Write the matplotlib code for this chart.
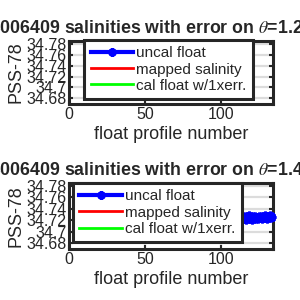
import matplotlib
matplotlib.use('Agg')
import matplotlib.pyplot as plt
from matplotlib.ticker import FuncFormatter

# data
float_name = '3006409'
theta_levels = ['1.2235', '1.4176']

# upper theta level: no profiles in range
top_profiles = []
top_uncal = []
top_mapped = []
top_cal = []

# lower theta level
bot_profiles = [114, 115, 116, 117, 118, 119, 120, 121, 122, 123,
                124, 125, 126, 127, 128, 129, 130, 131, 132, 133]
bot_uncal = [34.7246, 34.7262, 34.7228, 34.7249, 34.7265, 34.7231, 34.7222, 34.7258,
             34.7261, 34.7234, 34.7239, 34.7263, 34.7247, 34.7232, 34.7260, 34.7266,
             34.7233, 34.7249, 34.7264, 34.7251]
bot_mapped = [34.7278, 34.7280, 34.7276, 34.7279, 34.7281, 34.7277, 34.7275, 34.7278,
              34.7280, 34.7279, 34.7276, 34.7280, 34.7278, 34.7277, 34.7279, 34.7281,
              34.7278, 34.7280, 34.7282, 34.7285]
bot_cal = [34.7246, 34.7262, 34.7228, 34.7249, 34.7265, 34.7231, 34.7222, 34.7258,
           34.7261, 34.7234, 34.7239, 34.7263, 34.7247, 34.7232, 34.7260, 34.7266,
           34.7233, 34.7249, 34.7264, 34.7251]

yticks = [34.68, 34.70, 34.72, 34.74, 34.76, 34.78]
xticks = [0, 50, 100]

plt.rcParams['font.family'] = ['Liberation Sans', 'DejaVu Sans']
plt.rcParams['mathtext.fontset'] = 'stix'
plt.rcParams['axes.linewidth'] = 2.2
plt.rcParams['xtick.direction'] = 'in'
plt.rcParams['ytick.direction'] = 'in'
plt.rcParams['text.color'] = '#262626'
plt.rcParams['axes.labelcolor'] = '#262626'
plt.rcParams['xtick.color'] = '#262626'
plt.rcParams['ytick.color'] = '#262626'

fig = plt.figure(figsize=(3, 3), dpi=100)
ax1 = fig.add_axes([0.23, 0.653, 0.68, 0.21])
ax2 = fig.add_axes([0.23, 0.17, 0.68, 0.22])

datasets = [(ax1, top_profiles, top_uncal, top_mapped, top_cal, theta_levels[0]),
            (ax2, bot_profiles, bot_uncal, bot_mapped, bot_cal, theta_levels[1])]

for ax, prof, unc, mapd, cal, th in datasets:
    ax.plot(prof, cal, color='#00ff00', lw=2, label='cal float w/1xerr.', zorder=2)
    ax.plot(prof, mapd, color='red', lw=2, label='mapped salinity', zorder=2, clip_on=False)
    ax.plot(prof, unc, color='blue', lw=3, marker=(8, 2, 0), ms=7, mew=2, zorder=3,
            label='uncal float', clip_on=False)
    ax.set_xlim(0, 134)
    ax.set_ylim(34.6695, 34.785)
    ax.set_xticks(xticks)
    ax.set_yticks(yticks)
    ax.yaxis.set_major_formatter(FuncFormatter(lambda v, p: '%g' % round(v, 2)))
    ax.tick_params(axis='both', which='major', labelsize=11.5, length=3, width=1.5,
                   top=True, right=True, pad=2)
    ax.grid(True, color='#dcdcdc', lw=1.6)
    ax.set_axisbelow(True)
    for s in ax.spines.values():
        s.set_color('#262626')
    ax.set_xlabel('float profile number', size=13, labelpad=3)
    ax.set_ylabel('PSS-78', size=13, labelpad=1)
    ax.set_title(float_name + ' salinities with error on $\\theta$=' + th + '\u00b0C',
                 fontsize=12.8, fontweight='bold', pad=6)
    h, l = ax.get_legend_handles_labels()
    order = [2, 1, 0]
    leg = ax.legend([h[i] for i in order], [l[i] for i in order], fontsize=11,
                    handlelength=2.75, handletextpad=0.26, labelspacing=0.15,
                    borderpad=0.42, borderaxespad=0, fancybox=False, framealpha=1,
                    edgecolor='#262626', loc='upper left', markerscale=0.85,
                    bbox_to_anchor=(0.074, 1.02) if ax is ax1 else (0.02, 1.0))
    leg.get_frame().set_linewidth(2.2)

fig.savefig('out.png', dpi=100)
